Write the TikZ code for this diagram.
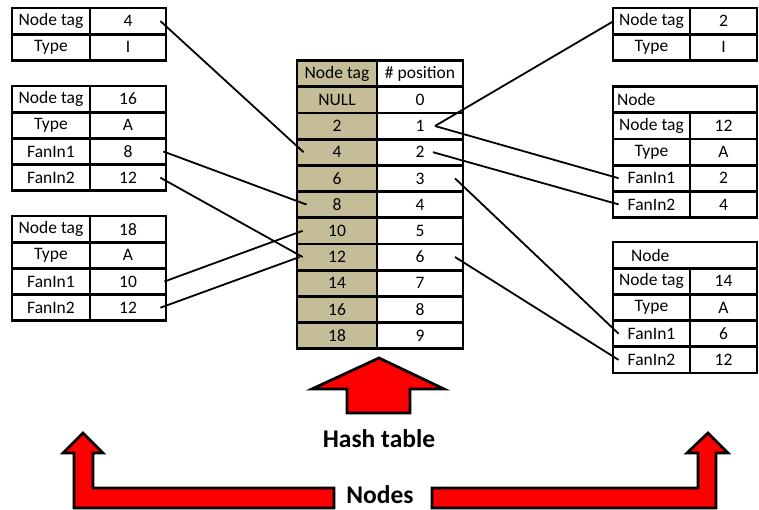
\documentclass[tikz,border=0pt]{standalone}
\usepackage{fontspec}
\setmainfont{Carlito}
\newlength{\du}
\setlength{\du}{1pt}
\definecolor{tancolor}{rgb}{0.768627, 0.741176, 0.592157}
\tikzset{
  cell/.style={draw=black, line width=2.8\du, minimum height=26.2\du, inner sep=0pt, font=\fontsize{17.5}{20}\selectfont},
  lkey/.style={cell, minimum width=78\du},
  lval/.style={cell, minimum width=76\du},
  rkey/.style={cell, minimum width=77\du},
  rval/.style={cell, minimum width=67\du},
  rhead/.style={cell, minimum width=144\du, text width=136\du, align=left},
  htag/.style={cell, fill=tancolor, minimum width=80\du},
  hpos/.style={cell, fill=white, minimum width=86\du},
  link/.style={draw=black, line width=1.8\du},
  redarrow/.style={fill=red, draw=black, line width=2.8\du, line join=miter},
  bigtext/.style={anchor=base, inner sep=0pt, font=\fontsize{25.5}{30}\selectfont\bfseries}
}

\begin{document}
\begin{tikzpicture}
\pgftransformxscale{1.000000}
\pgftransformyscale{-1.000000}
\useasboundingbox (0\du,0\du) rectangle (759\du,509\du);
% left boxes
\node[lkey] (b4k1) at (51\du,21.1\du){Node tag};
\node[lval] (b4v1) at (128\du,21.1\du){4};
\node[lkey] (b4k2) at (51\du,47.3\du){Type};
\node[lval] (b4v2) at (128\du,47.3\du){I};
\node[lkey] (b16k1) at (51\du,99.1\du){Node tag};
\node[lval] (b16v1) at (128\du,99.1\du){16};
\node[lkey] (b16k2) at (51\du,125.3\du){Type};
\node[lval] (b16v2) at (128\du,125.3\du){A};
\node[lkey] (b16k3) at (51\du,151.5\du){FanIn1};
\node[lval] (b16v3) at (128\du,151.5\du){8};
\node[lkey] (b16k4) at (51\du,177.7\du){FanIn2};
\node[lval] (b16v4) at (128\du,177.7\du){12};
\node[lkey] (b18k1) at (51\du,229.1\du){Node tag};
\node[lval] (b18v1) at (128\du,229.1\du){18};
\node[lkey] (b18k2) at (51\du,255.3\du){Type};
\node[lval] (b18v2) at (128\du,255.3\du){A};
\node[lkey] (b18k3) at (51\du,281.5\du){FanIn1};
\node[lval] (b18v3) at (128\du,281.5\du){10};
\node[lkey] (b18k4) at (51\du,307.7\du){FanIn2};
\node[lval] (b18v4) at (128\du,307.7\du){12};
% hash table
\node[htag] (htag0) at (337\du,73.6\du){Node tag};
\node[hpos] (hpos0) at (420\du,73.6\du){\# position};
\node[htag] (htag1) at (337\du,99.8\du){NULL};
\node[hpos] (hpos1) at (420\du,99.8\du){0};
\node[htag] (htag2) at (337\du,126.0\du){2};
\node[hpos] (hpos2) at (420\du,126.0\du){1};
\node[htag] (htag3) at (337\du,152.2\du){4};
\node[hpos] (hpos3) at (420\du,152.2\du){2};
\node[htag] (htag4) at (337\du,178.4\du){6};
\node[hpos] (hpos4) at (420\du,178.4\du){3};
\node[htag] (htag5) at (337\du,204.6\du){8};
\node[hpos] (hpos5) at (420\du,204.6\du){4};
\node[htag] (htag6) at (337\du,230.8\du){10};
\node[hpos] (hpos6) at (420\du,230.8\du){5};
\node[htag] (htag7) at (337\du,257.0\du){12};
\node[hpos] (hpos7) at (420\du,257.0\du){6};
\node[htag] (htag8) at (337\du,283.2\du){14};
\node[hpos] (hpos8) at (420\du,283.2\du){7};
\node[htag] (htag9) at (337\du,309.4\du){16};
\node[hpos] (hpos9) at (420\du,309.4\du){8};
\node[htag] (htag10) at (337\du,335.6\du){18};
\node[hpos] (hpos10) at (420\du,335.6\du){9};
% right boxes
\node[rkey] (b2k1) at (651.5\du,21.1\du){Node tag};
\node[rval] (b2v1) at (723.5\du,21.1\du){2};
\node[rkey] (b2k2) at (651.5\du,47.3\du){Type};
\node[rval] (b2v2) at (723.5\du,47.3\du){I};
\node[rhead] (b12h) at (685\du,99.6\du){Node};
\node[rkey] (b12k1) at (651.5\du,125.8\du){Node tag};
\node[rval] (b12v1) at (723.5\du,125.8\du){12};
\node[rkey] (b12k2) at (651.5\du,152.0\du){Type};
\node[rval] (b12v2) at (723.5\du,152.0\du){A};
\node[rkey] (b12k3) at (651.5\du,178.2\du){FanIn1};
\node[rval] (b12v3) at (723.5\du,178.2\du){2};
\node[rkey] (b12k4) at (651.5\du,204.4\du){FanIn2};
\node[rval] (b12v4) at (723.5\du,204.4\du){4};
\node[rhead] (b14h) at (685\du,255.1\du){\hspace*{14\du}Node};
\node[rkey] (b14k1) at (651.5\du,281.3\du){Node tag};
\node[rval] (b14v1) at (723.5\du,281.3\du){14};
\node[rkey] (b14k2) at (651.5\du,307.5\du){Type};
\node[rval] (b14v2) at (723.5\du,307.5\du){A};
\node[rkey] (b14k3) at (651.5\du,333.7\du){FanIn1};
\node[rval] (b14v3) at (723.5\du,333.7\du){6};
\node[rkey] (b14k4) at (651.5\du,359.9\du){FanIn2};
\node[rval] (b14v4) at (723.5\du,359.9\du){12};
% links into the table
\draw[link] ([xshift=-7\du]b4v1.east)--([xshift=8\du]htag3.west);
\draw[link] ([xshift=-4\du]b16v3.east)--([xshift=11\du]htag5.west);
\draw[link] ([xshift=-7\du]b16v4.east)--([xshift=7\du]htag7.west);
\draw[link] ([xshift=-3\du]b18v3.east)--([xshift=7\du]htag6.west);
\draw[link] ([xshift=-7\du]b18v4.east)--([xshift=4\du]htag7.west);
% links out of the table
\draw[link] ([xshift=15\du]hpos2.center)--([xshift=2\du]b2k1.west);
\draw[link] ([xshift=15\du]hpos2.center)--([xshift=7\du]b12k3.west);
\draw[link] ([xshift=13\du]hpos3.center)--([xshift=7\du]b12k4.west);
\draw[link] ([xshift=35\du]hpos4.center)--([xshift=7\du]b14k3.west);
\draw[link] ([xshift=35\du]hpos7.center)--([xshift=7\du]b14k4.west);
% red arrows
\draw[redarrow] (379\du,358\du)--(444\du,389\du)--(410\du,389\du)--(410\du,413\du)--(347\du,413\du)--(347\du,389\du)--(312\du,389\du)--cycle;
\draw[redarrow] (83\du,433\du)--(103\du,453\du)--(93\du,453\du)--(93\du,488\du)--(334\du,488\du)--(334\du,508\du)--(74\du,508\du)--(74\du,453\du)--(63\du,453\du)--cycle;
\draw[redarrow] (708\du,433\du)--(728\du,453\du)--(716\du,453\du)--(716\du,508\du)--(432\du,508\du)--(432\du,488\du)--(698\du,488\du)--(698\du,453\du)--(687\du,453\du)--cycle;
\node[bigtext] (hashlbl) at (379\du,447\du){Hash table};
\node[bigtext] (nodeslbl) at (380\du,503\du){Nodes};
\end{tikzpicture}
\end{document}
